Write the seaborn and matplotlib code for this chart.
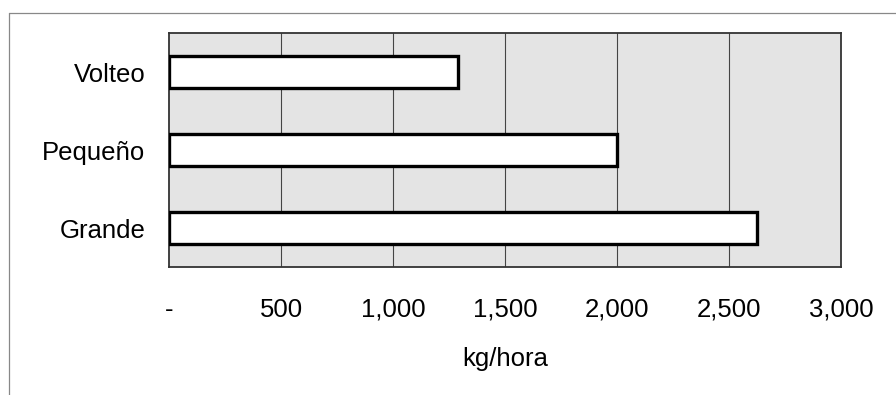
import matplotlib
matplotlib.use("Agg")
import matplotlib.pyplot as plt
import seaborn as sns
import pandas as pd
from matplotlib.lines import Line2D

categories = ["Volteo", "Pequeño", "Grande"]
values = [1290, 2000, 2625]
tick_values = [0, 500, 1000, 1500, 2000, 2500, 3000]
tick_labels = ["-", "500", "1,000", "1,500", "2,000", "2,500", "3,000"]

sns.set_theme(style="white")
plt.rcParams["font.family"] = ["Liberation Sans", "DejaVu Sans"]
plt.rcParams["text.color"] = "black"
plt.rcParams["xtick.color"] = "black"
plt.rcParams["ytick.color"] = "black"
plt.rcParams["axes.labelcolor"] = "black"

df = pd.DataFrame({"cat": categories, "val": values})

fig = plt.figure(figsize=(8.96, 3.95), dpi=100)
W, H = 896, 395
ax = fig.add_axes([169 / W, 1 - 267 / H, (841 - 169) / W, (267 - 33) / H])
ax.set_facecolor("#e4e4e4")

sns.barplot(data=df, x="val", y="cat", orient="h", ax=ax, color="white",
            edgecolor="black", linewidth=2.4, width=0.41, saturation=1, zorder=3)

ax.set_xlim(0, 3000)
ax.set_ylim(2.5, -0.5)
ax.set_xticks(tick_values)
ax.set_xticklabels(tick_labels, fontsize=18.5)
ax.tick_params(axis="y", labelsize=18.5, length=0, pad=17)
ax.tick_params(axis="x", length=0, pad=22)
for v in tick_values[1:-1]:
    ax.axvline(v, color="#444444", linewidth=0.8, zorder=1)
for s in ax.spines.values():
    s.set_color("#333333")
    s.set_linewidth(1.3)
ax.set_xlabel("kg/hora", fontsize=18.5, labelpad=18)
ax.set_ylabel("")

# outer frame (top and left visible)
fig.add_artist(Line2D([9 / W, 1.0], [1 - 13 / H, 1 - 13 / H], transform=fig.transFigure,
                      color="#888888", linewidth=0.9))
fig.add_artist(Line2D([9 / W, 9 / W], [0.0, 1 - 13 / H], transform=fig.transFigure,
                      color="#888888", linewidth=0.9))

fig.savefig("out.png", dpi=100)
